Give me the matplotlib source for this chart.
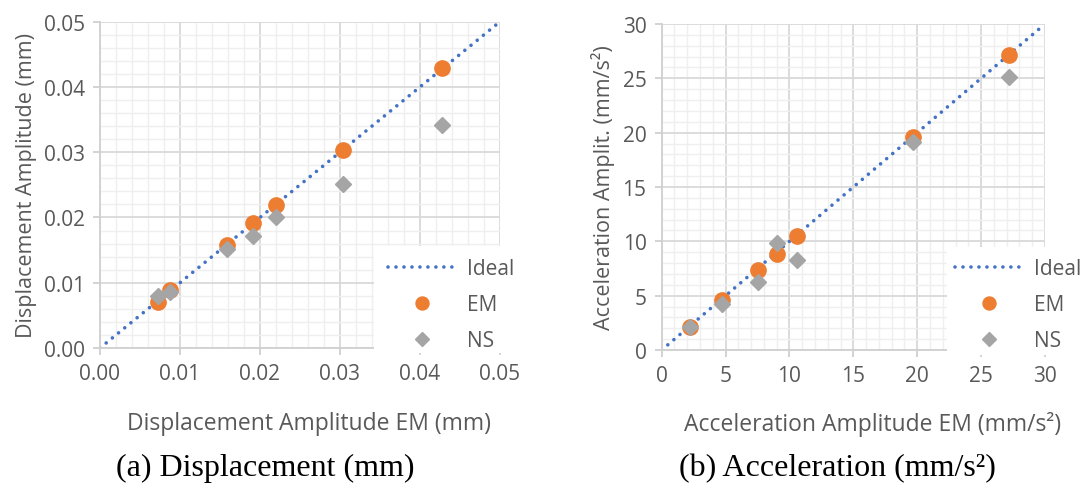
import numpy as np
import matplotlib
matplotlib.use("Agg")
import matplotlib.pyplot as plt
from matplotlib.patches import Rectangle
from matplotlib.ticker import MultipleLocator

plt.rcParams['font.family'] = ['Open Sans', 'DejaVu Sans']

# (a) displacement, mm
disp_em_x = [0.0073, 0.0088, 0.0159, 0.0191, 0.0220, 0.0304, 0.0427]
disp_em_y = [0.0070, 0.0089, 0.0158, 0.0191, 0.0219, 0.0304, 0.0429]
disp_ns_y = [0.0080, 0.0086, 0.0152, 0.0171, 0.0200, 0.0252, 0.0341]
disp_ideal = [0.0, 0.05]

# (b) acceleration, mm/s^2
acc_em_x = [2.2, 4.7, 7.5, 9.0, 10.6, 19.7, 27.2]
acc_em_y = [2.1, 4.6, 7.4, 8.8, 10.5, 19.6, 27.1]
acc_ns_y = [2.1, 4.2, 6.3, 9.8, 8.3, 19.1, 25.1]
acc_ideal = [0.0, 29.7]

grey_txt = '#595959'
c_em = '#ED7D31'
c_ns = '#A5A5A5'
c_ideal = '#4472C4'

fig = plt.figure(figsize=(10.88, 4.85), dpi=100)
ax1 = fig.add_axes([0.0919, 0.2804, 0.3676, 0.6728])
ax2 = fig.add_axes([0.6082, 0.2763, 0.3523, 0.6722])


def style(ax, xmax, ymax, major, minor, fmt, xlabel, ylabel, xlab_pos, box_x, box_top):
    ax.set_xlim(0, xmax)
    ax.set_ylim(0, ymax)
    ax.xaxis.set_major_locator(MultipleLocator(major))
    ax.yaxis.set_major_locator(MultipleLocator(major))
    ax.xaxis.set_minor_locator(MultipleLocator(minor))
    ax.yaxis.set_minor_locator(MultipleLocator(minor))
    ax.xaxis.set_major_formatter(fmt)
    ax.yaxis.set_major_formatter(fmt)
    ax.grid(which='major', color='#d9d9d9', linewidth=1.3)
    ax.grid(which='minor', color='#efefef', linewidth=1.0)
    ax.set_axisbelow(True)
    for s in ['top', 'right']:
        ax.spines[s].set_visible(False)
    for s in ['left', 'bottom']:
        ax.spines[s].set_color('#d0d0d0')
        ax.spines[s].set_linewidth(1.3)
    ax.tick_params(which='major', length=5, width=1.3, color='#d0d0d0',
                   labelcolor=grey_txt, labelsize=15, pad=6)
    ax.tick_params(which='minor', length=0)
    ax.set_xlabel(xlabel, color=grey_txt, fontsize=16.5)
    ax.xaxis.set_label_coords(*xlab_pos)
    ax.set_ylabel(ylabel, color=grey_txt, fontsize=15.5, labelpad=5)
    ax.add_patch(Rectangle((box_x, -0.016), 0.6, box_top + 0.016,
                           transform=ax.transAxes, facecolor='white',
                           edgecolor='none', zorder=4, clip_on=False))


def draw(ax, ideal, em_x, em_y, ns_y):
    ax.plot(ideal, ideal, linestyle=(0, (0.01, 2.2)), dash_capstyle='round',
            color=c_ideal, linewidth=2.6, label='Ideal', zorder=2)
    ax.plot(em_x, em_y, linestyle='none', marker='o', markersize=11,
            color=c_em, label='EM', zorder=3)
    ax.plot(em_x, ns_y, linestyle='none', marker='D', markersize=8,
            color=c_ns, label='NS', zorder=3.5)


def legend(ax, anchor):
    leg = ax.legend(loc='upper left', bbox_to_anchor=anchor, frameon=False,
                    fontsize=15, labelcolor=grey_txt, handlelength=3.3,
                    handletextpad=0.5, labelspacing=0.72, borderpad=0,
                    borderaxespad=0, markerscale=0.85)
    leg.set_zorder(5)


draw(ax1, disp_ideal, disp_em_x, disp_em_y, disp_ns_y)
style(ax1, 0.05, 0.05, 0.01, 0.002, '{x:.2f}',
      'Displacement Amplitude EM (mm)', 'Displacement Amplitude (mm)',
      (0.5225, -0.192), 0.685, 0.3126)
legend(ax1, (0.72, 0.276))

draw(ax2, acc_ideal, acc_em_x, acc_em_y, acc_ns_y)
style(ax2, 30, 30, 5, 1, '{x:.0f}',
      'Acceleration Amplitude EM (mm/s²)', 'Acceleration Amplit. (mm/s²)',
      (0.549, -0.187), 0.744, 0.316)
legend(ax2, (0.765, 0.282))

fig.text(0.2436, 0.018, '(a) Displacement (mm)', family='Liberation Serif',
         fontsize=23, ha='center', va='baseline')
fig.text(0.770, 0.018, '(b) Acceleration (mm/s²)', family='Liberation Serif',
         fontsize=23, ha='center', va='baseline')

fig.savefig('out.png', dpi=100)
